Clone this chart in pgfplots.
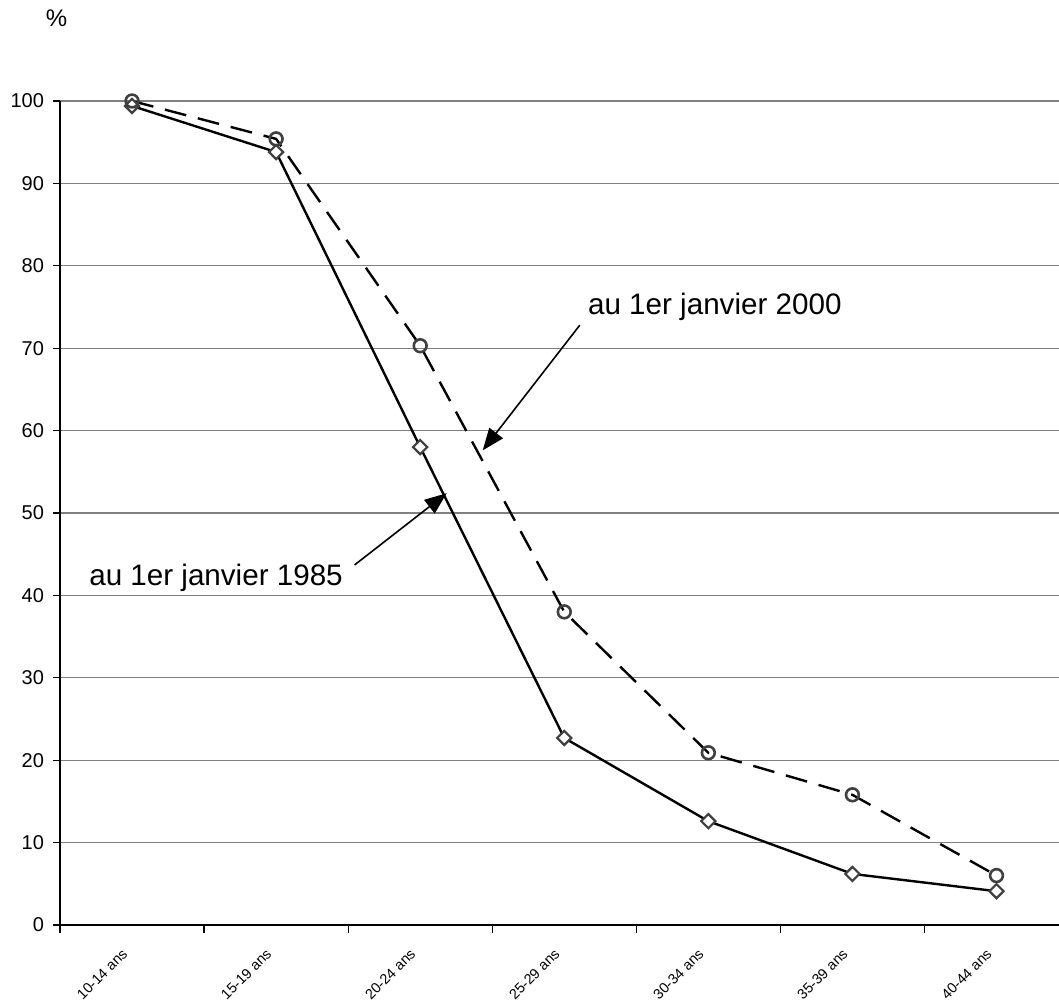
\documentclass[border=0pt]{standalone}
\usepackage{pgfplots}
\pgfplotsset{compat=1.18}
\usepackage{fontspec}
\setmainfont{Liberation Sans}
\usetikzlibrary{arrows.meta}
\definecolor{mk}{HTML}{404040}
\definecolor{gr}{HTML}{808080}
\begin{document}
\begin{tikzpicture}
\begin{axis}[
  at={(30pt,40pt)}, anchor=south west,
  scale only axis, width=499.5pt, height=412pt,
  xmin=-0.5, xmax=6.434, ymin=0, ymax=100,
  axis x line*=bottom, axis y line*=left,
  x axis line style={line width=1pt,-},
  y axis line style={line width=0.8pt,-},
  xtick={0,1,2,3,4,5,6},
  xticklabels={10-14 ans,15-19 ans,20-24 ans,25-29 ans,30-34 ans,35-39 ans,40-44 ans},
  major x tick style={draw=none},
  minor xtick={-0.5,0.5,1.5,2.5,3.5,4.5,5.5},
  minor tick length=4pt,
  ytick={0,10,...,100},
  tick align=outside,
  major tick length=3.5pt,
  tick style={black, line width=0.6pt},
  ymajorgrids, grid style={color=gr, line width=0.6pt},
  xticklabel style={xshift=-1.2pt, yshift=-7.3pt, rotate=45, anchor=east, font=\fontsize{7.2}{8.5}\selectfont},
  yticklabel style={font=\fontsize{10}{12}\selectfont, xshift=-1pt},
  /pgf/number format/assume math mode=true,
  clip=false,
]
\addplot[black, line width=1.2pt, mark=square*, mark size=2.5pt,
  mark options={solid, rotate=45, fill=white, draw=mk, line width=1.1pt}]
  coordinates {(0,99.4) (1,93.8) (2,58.0) (3,22.7) (4,12.6) (5,6.2) (6,4.1)};
\addplot[black, line width=1.2pt, dash pattern=on 11pt off 6pt, mark=o, mark size=3.2pt,
  mark options={solid, fill=white, draw=mk, line width=1.3pt}]
  coordinates {(0,100) (1,95.4) (2,70.3) (3,38.0) (4,20.9) (5,15.8) (6,6.0)};
\draw[-{Triangle[length=11pt,width=8.5pt]}, line width=0.8pt]
  (axis cs:3.108,72.8) -- (axis cs:2.434,57.6);
\draw[-{Triangle[length=11pt,width=8.5pt]}, line width=0.8pt]
  (axis cs:1.545,43.7) -- (axis cs:2.184,52.4);
\node[font=\fontsize{14.8}{17}\selectfont, inner sep=0pt] at (axis cs:4.045,75.0) {au 1er janvier 2000};
\node[font=\fontsize{14.8}{17}\selectfont, inner sep=0pt] at (axis cs:0.583,42.1) {au 1er janvier 1985};
\node[font=\fontsize{12}{14}\selectfont, inner sep=0pt] at (axis cs:-0.524,110) {\%};
\end{axis}
\pgfresetboundingbox
\useasboundingbox (0,0) rectangle (529.5pt,502.5pt);
\end{tikzpicture}
\end{document}
